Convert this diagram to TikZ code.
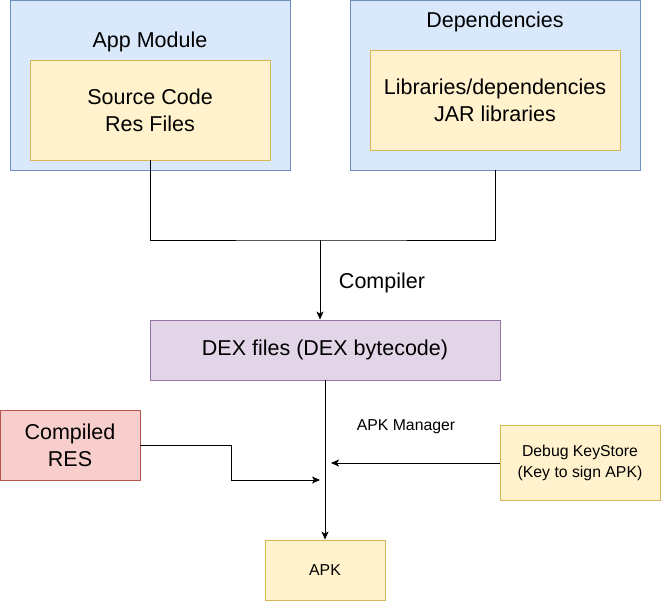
\documentclass[tikz,border=0pt]{standalone}
\usepackage{fontspec}
\setmainfont{Liberation Sans}
\usetikzlibrary{arrows.meta}
\definecolor{blue-fill}{HTML}{DAE8FC}
\definecolor{blue-line}{HTML}{6C8EBF}
\definecolor{yellow-fill}{HTML}{FFF2CC}
\definecolor{yellow-line}{HTML}{D6B656}
\definecolor{purple-fill}{HTML}{E1D5E7}
\definecolor{purple-line}{HTML}{9673A6}
\definecolor{red-fill}{HTML}{F8CECC}
\definecolor{red-line}{HTML}{B85450}
\tikzset{
    any-box/.style = {rectangle, line width=0.9pt, inner sep=0pt, align=center},
    module-box/.style = {any-box, draw=blue-line, fill=blue-fill},
    content-box/.style = {any-box, draw=yellow-line, fill=yellow-fill},
    dex-box/.style = {any-box, draw=purple-line, fill=purple-fill},
    res-box/.style = {any-box, draw=red-line, fill=red-fill},
    big-text/.style = {font=\fontsize{21.5}{27}\selectfont, align=center, inner sep=0pt},
    small-text/.style = {font=\fontsize{15.8}{21}\selectfont, align=center, inner sep=0pt},
    link/.style = {line width=0.9pt},
    arrow-link/.style = {link, -{Stealth[length=8pt, width=7pt, inset=2pt]}},
}
\begin{document}
\begin{tikzpicture}[x=1pt, y=-1pt]
\useasboundingbox (0,0) rectangle (661,601);
% modules
\node[module-box, minimum width=280pt, minimum height=170pt] (app) at (150,85) {};
\node[big-text] (app-title) at (150,42) {App Module};
\node[content-box, big-text, minimum width=240pt, minimum height=100pt] (source) at (150,110) {Source Code\\Res Files};
\node[module-box, minimum width=290pt, minimum height=170pt] (deps) at (495,85) {};
\node[big-text] (deps-title) at (495,22) {Dependencies};
\node[content-box, big-text, minimum width=250pt, minimum height=100pt] (libs) at (495,100) {Libraries/dependencies\\JAR libraries};
% compile step
\coordinate (join) at (320,240);
\draw[link] (source.south) |- (join) -| (deps.south);
\node[dex-box, big-text, minimum width=350pt, minimum height=60pt] (dex) at (325,350) {DEX files (DEX bytecode)};
\draw[arrow-link] (join) -- (dex.north -| join);
\node[big-text] (compiler) at (382,283) {Compiler};
% packaging
\node[res-box, big-text, minimum width=140pt, minimum height=70pt] (res) at (70,445) {Compiled\\RES};
\node[content-box, small-text, minimum width=160pt, minimum height=75pt] (keystore) at (580,463) {Debug KeyStore\\(Key to sign APK)};
\node[content-box, small-text, minimum width=120pt, minimum height=60pt] (apk) at (325,570) {APK};
\node[small-text] (manager) at (406,427) {APK Manager};
\draw[arrow-link] (dex.south) -- (apk.north);
\coordinate (res-end) at (320,480);
\draw[arrow-link] (res.east) -- (231,445) |- (res-end);
\coordinate (key-end) at (331,463);
\draw[arrow-link] (keystore.west) -- (key-end);
\end{tikzpicture}
\end{document}
